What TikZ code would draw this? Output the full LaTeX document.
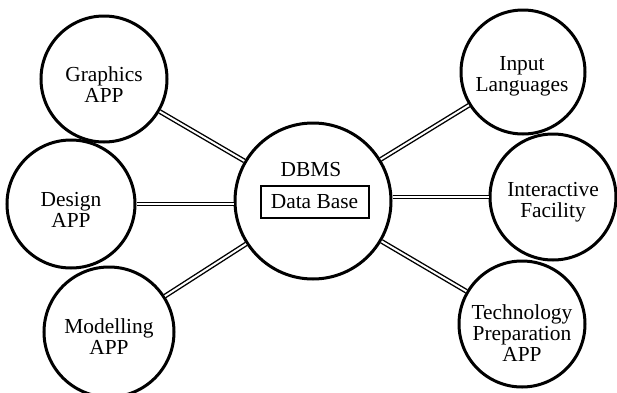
\documentclass[tikz,border=0pt]{standalone}
\usepackage{fontspec}
\setmainfont{Liberation Serif}
\begin{document}
\begin{tikzpicture}[x=0.5pt,y=-0.5pt,
  txt/.style={inner sep=0pt,align=center,font=\fontsize{10.7}{10.5}\selectfont},
  bubble/.style={circle,draw,line width=1.5pt,inner sep=0pt,minimum size=#1},
  link/.style={double,double distance=1pt,line width=0.7pt},
  dbbox/.style={draw,line width=1pt,minimum width=54pt,minimum height=16pt,inner sep=0pt,
    font=\fontsize{10.7}{10.5}\selectfont}]
\useasboundingbox (0,0) rectangle (617,392);
\node[bubble=63pt] (G) at (104,79) {};
\node[txt] (Gt) at (104,85) {Graphics\\APP};
\node[bubble=64pt] (D) at (71,204) {};
\node[txt] (Dt) at (71,210) {Design\\APP};
\node[bubble=65pt] (M) at (109,332) {};
\node[txt] (Mt) at (109,337) {Modelling\\APP};
\node[bubble=78pt] (C) at (313,201) {};
\node[txt] (dbms) at (311,170) {DBMS};
\node[dbbox] (db) at (314.5,202) {Data Base};
\node[bubble=62pt] (I) at (523,72) {};
\node[txt] (It) at (522,76) {Input\\Languages};
\node[bubble=63pt] (F) at (553,197) {};
\node[txt] (Ft) at (553,202) {Interactive\\Facility};
\node[bubble=63pt] (T) at (522,324) {};
\node[txt] (Tt) at (522,333) {Technology\\Preparation\\APP};
\draw[link] (G) -- (C);
\draw[link] (D.east) -- (C.west |- D.east);
\draw[link] (M) -- (C);
\draw[link] (I) -- (C);
\draw[link] (F.west) -- (C.east |- F.west);
\draw[link] (T) -- (C);
\end{tikzpicture}
\end{document}
